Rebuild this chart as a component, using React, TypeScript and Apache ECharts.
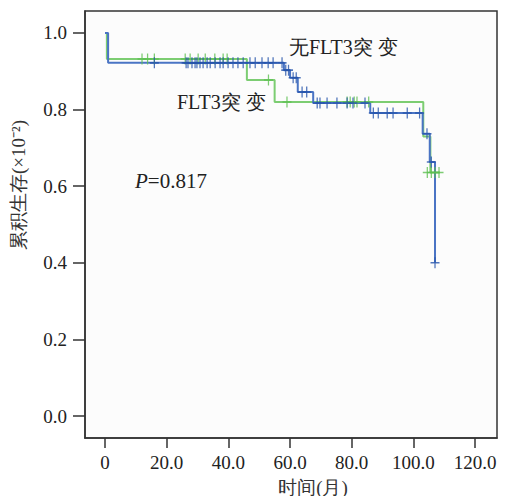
import React, { useEffect, useRef } from "react";
import * as echarts from "echarts";

// Kaplan-Meier step points (time in months, cumulative survival)
const greenTimes = [0, 0.6, 46, 55, 103.2, 105.5, 108.6];
const greenSurv = [1.0, 0.932, 0.877, 0.82, 0.73, 0.636, 0.636];

const blueTimes = [0, 1, 58, 60, 62.5, 67.5, 86, 103, 105.3, 107];
const blueSurv = [1.0, 0.922, 0.903, 0.883, 0.846, 0.817, 0.791, 0.737, 0.663, 0.4];

// Censored observations
const greenCensorTimes = [12, 13.8, 16, 26, 27.6, 30.2, 32.5, 35.6, 38.3, 39.6, 53, 59, 78.5, 79.5, 80.8, 81.7, 85.5, 104.5, 105.8, 107, 108.3];
const greenCensorSurv = [0.932, 0.932, 0.932, 0.932, 0.932, 0.932, 0.932, 0.932, 0.932, 0.932, 0.877, 0.82, 0.82, 0.82, 0.82, 0.82, 0.82, 0.636, 0.636, 0.636, 0.636];

const blueCensorTimes = [16, 26.3, 26.9, 28.2, 29.2, 29.8, 30.8, 31.8, 33.1, 34.1, 35.7, 37.3, 38.3, 39.9, 41.5, 43.1, 44.8, 47.0, 48.7, 50.9, 52.9, 54.5, 57.4, 58.6, 59.5, 61, 62, 63.9, 65.4, 68.8, 69.7, 72, 75.2, 78.5, 80.4, 84.3, 87, 88.6, 91.5, 93.4, 98, 102, 104.4, 105.8, 107];
const blueCensorSurv = [0.922, 0.922, 0.922, 0.922, 0.922, 0.922, 0.922, 0.922, 0.922, 0.922, 0.922, 0.922, 0.922, 0.922, 0.922, 0.922, 0.922, 0.922, 0.922, 0.922, 0.922, 0.922, 0.922, 0.903, 0.903, 0.883, 0.883, 0.846, 0.846, 0.817, 0.817, 0.817, 0.817, 0.817, 0.817, 0.817, 0.791, 0.791, 0.791, 0.791, 0.791, 0.791, 0.737, 0.663, 0.4];

const xTicks = [0, 20, 40, 60, 80, 100, 120];
const yTicks = [0, 0.2, 0.4, 0.6, 0.8, 1.0];

const PLUS = "path://M-0.7,-5H0.7V-0.7H5V0.7H0.7V5H-0.7V0.7H-5V-0.7H-0.7Z";

const zip = (a: number[], b: number[]) => a.map((v, i) => [v, b[i]]);

export default function App() {
  const ref = useRef<HTMLDivElement>(null);
  useEffect(() => {
    if (!ref.current) return;
    const chart = echarts.init(ref.current, null, { renderer: "svg" });
    const serif = "Liberation Serif";
    chart.setOption({
      animation: false,
      backgroundColor: "#ffffff",
      grid: {
        left: 85,
        top: 11,
        right: 10,
        bottom: 58,
        show: true,
        borderColor: "#333",
        borderWidth: 1.5,
        backgroundColor: "#fcfcfc",
      },
      xAxis: {
        type: "value",
        min: -6.49,
        max: 127.1,
        axisLine: { show: true, onZero: false, lineStyle: { color: "#333", width: 1.5 } },
        axisTick: { show: true, customValues: xTicks, length: 10, lineStyle: { color: "#333", width: 1.5 } },
        axisLabel: {
          customValues: xTicks,
          margin: 15,
          fontFamily: serif,
          fontSize: 19,
          color: "#222",
          formatter: (v: number) => (v === 0 ? "0" : v.toFixed(1)),
        },
        splitLine: { show: false },
      },
      yAxis: {
        type: "value",
        min: -0.0574,
        max: 1.0574,
        axisLine: { show: true, onZero: false, lineStyle: { color: "#333", width: 1.5 } },
        axisTick: { show: true, customValues: yTicks, length: 12, lineStyle: { color: "#333", width: 1.5 } },
        axisLabel: {
          customValues: yTicks,
          margin: 18,
          fontFamily: serif,
          fontSize: 19,
          color: "#222",
          formatter: (v: number) => v.toFixed(1),
        },
        splitLine: { show: false },
      },
      graphic: [
        {
          type: "text",
          x: 18,
          y: 185,
          rotation: Math.PI / 2,
          style: {
            text: "累积生存(×10⁻²)",
            fontFamily: serif,
            fontSize: 19,
            fill: "#333",
            align: "center",
            verticalAlign: "middle",
          },
        },
        {
          type: "text",
          x: 313,
          y: 487,
          style: {
            text: "时间(月)",
            fontFamily: serif,
            fontSize: 19,
            fill: "#333",
            align: "center",
            verticalAlign: "middle",
          },
        },
        {
          type: "text",
          x: 289,
          y: 47,
          style: {
            text: "无FLT3突 变",
            fontFamily: serif,
            fontSize: 20,
            fill: "#222",
            verticalAlign: "middle",
          },
        },
        {
          type: "text",
          x: 177,
          y: 102,
          style: {
            text: "FLT3突 变",
            fontFamily: serif,
            fontSize: 20,
            fill: "#222",
            verticalAlign: "middle",
          },
        },
        {
          type: "text",
          x: 135,
          y: 181,
          style: {
            rich: {
              p: { fontFamily: serif, fontStyle: "italic", fontSize: 21, fill: "#222" },
              v: { fontFamily: serif, fontSize: 21, fill: "#222" },
            },
            text: "{p|P}{v|=0.817}",
            verticalAlign: "middle",
          },
        },
      ],
      series: [
        {
          type: "line",
          step: "end",
          data: zip(greenTimes, greenSurv),
          showSymbol: false,
          lineStyle: { color: "#7ccd72", width: 2 },
          z: 2,
        },
        {
          type: "line",
          step: "end",
          data: zip(blueTimes, blueSurv),
          showSymbol: false,
          lineStyle: { color: "#4a74c4", width: 2 },
          z: 3,
        },
        {
          type: "scatter",
          data: zip(greenCensorTimes, greenCensorSurv),
          symbol: PLUS,
          symbolSize: [9, 11],
          itemStyle: { color: "#5cbf50" },
          z: 4,
        },
        {
          type: "scatter",
          data: zip(blueCensorTimes, blueCensorSurv),
          symbol: PLUS,
          symbolSize: [9, 11],
          itemStyle: { color: "#2453aa" },
          z: 5,
        },
      ],
    });
    return () => chart.dispose();
  }, []);
  return <div ref={ref} style={{ width: 507, height: 496, position: "absolute", left: 0, top: 0 }} />;
}
